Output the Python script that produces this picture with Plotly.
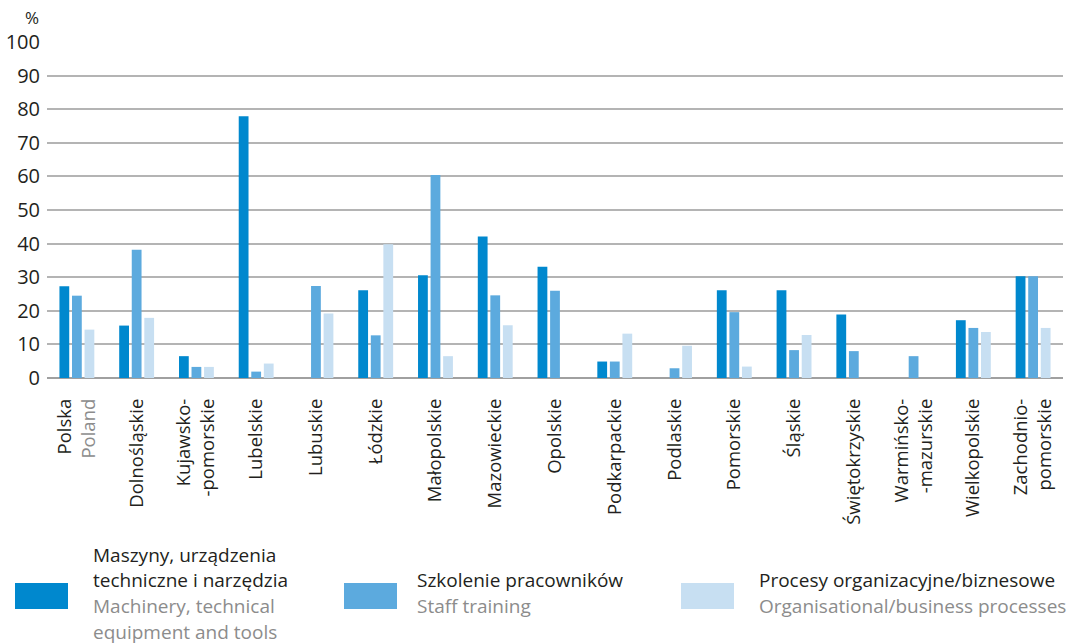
import plotly.graph_objects as go

categories = ["Polska<br><span style='color:#8c8c8c'>Poland</span>", "Dolnośląskie", "Kujawsko-<br>-pomorskie", "Lubelskie",
              "Lubuskie", "Łódzkie", "Małopolskie", "Mazowieckie", "Opolskie", "Podkarpackie",
              "Podlaskie", "Pomorskie", "Śląskie", "Świętokrzyskie", "Warmińsko-<br>-mazurskie",
              "Wielkopolskie", "Zachodnio-<br>pomorskie"]

machinery = [27.3, 15.6, 6.5, 77.9, 0, 26.1, 30.6, 42.1, 33.1, 4.9, 0, 26.1, 26.1, 18.9, 0, 17.2, 30.3]
training = [24.5, 38.2, 3.3, 1.9, 27.4, 12.7, 60.4, 24.6, 26.0, 4.9, 2.9, 19.6, 8.3, 8.0, 6.5, 14.9, 30.3]
processes = [14.4, 17.9, 3.3, 4.3, 19.2, 39.8, 6.5, 15.7, 0, 13.2, 9.6, 3.4, 12.8, 0, 0, 13.7, 14.9]

series_pl = ["Maszyny, urządzenia|techniczne i narzędzia", "Szkolenie pracowników", "Procesy organizacyjne/biznesowe"]
series_en = ["Machinery, technical|equipment and tools", "Staff training", "Organisational/business processes"]
colors = ["#0088CE", "#5CAADE", "#C7DFF2"]
y_ticks = [0, 10, 20, 30, 40, 50, 60, 70, 80, 90, 100]

FONT = "Open Sans"
DARK = "#231F20"
GREY = "#8c8c8c"

W, H = 1067, 644
# plot area in page pixels: x 47..1063, y 42..378
L, T, R = 47, 42, 4
B = H - 378
pw, ph = W - L - R, H - T - B

def px2x(px):
    return (px - L) / pw

def px2y(py):
    return (378 - py) / ph

fig = go.Figure()
for vals, c, name in zip([machinery, training, processes], colors, series_pl):
    fig.add_trace(go.Bar(x=categories, y=vals, marker=dict(color=c, line=dict(width=0)),
                         name=name, showlegend=False))

fig.update_layout(
    width=W, height=H,
    margin=dict(l=L, r=R, t=T, b=B),
    paper_bgcolor="white", plot_bgcolor="white",
    barmode="group", bargap=0.37, bargroupgap=0.22,
    font=dict(family=FONT, color=DARK, size=18),
    xaxis=dict(tickangle=-90, tickfont=dict(size=18.5, color=DARK), showgrid=False,
               showline=False, ticks="", ticklabelstandoff=16, automargin=False),
    yaxis=dict(range=[0, 100], tickvals=y_ticks, tickfont=dict(size=20, color=DARK),
               gridcolor="#b4b4b4", gridwidth=1.5, zeroline=True, zerolinecolor="#a0a0a0",
               zerolinewidth=2, showline=False, ticks="", ticklabelstandoff=6, automargin=False),
)

fig.add_annotation(text="%", xref="paper", yref="paper", x=px2x(32), y=px2y(17),
                   showarrow=False, font=dict(size=17, color=DARK), xanchor="center", yanchor="middle")

# custom legend
sq_x = [15, 344, 681]
txt_x = [93, 417, 759]
for i in range(3):
    fig.add_shape(type="rect", xref="paper", yref="paper",
                  x0=px2x(sq_x[i]), x1=px2x(sq_x[i] + 53), y0=px2y(583), y1=px2y(609),
                  fillcolor=colors[i], line=dict(width=0))
    pl = series_pl[i].split("|")
    en = series_en[i].split("|")
    pl_y = [580 - 25.5 * (len(pl) - 1 - k) for k in range(len(pl))]
    en_y = [606 + 25.5 * k for k in range(len(en))]
    for t, yy in zip(pl, pl_y):
        fig.add_annotation(text=t, xref="paper", yref="paper", x=px2x(txt_x[i] - 2), y=px2y(yy),
                           showarrow=False, xanchor="left", yanchor="middle",
                           font=dict(size=19, color=DARK))
    for t, yy in zip(en, en_y):
        fig.add_annotation(text=t, xref="paper", yref="paper", x=px2x(txt_x[i] - 2), y=px2y(yy),
                           showarrow=False, xanchor="left", yanchor="middle",
                           font=dict(size=19, color=GREY))

fig.write_html("out.html", config={"displayModeBar": False},
               post_script="document.body.style.margin='0';document.body.style.overflow='hidden';")
